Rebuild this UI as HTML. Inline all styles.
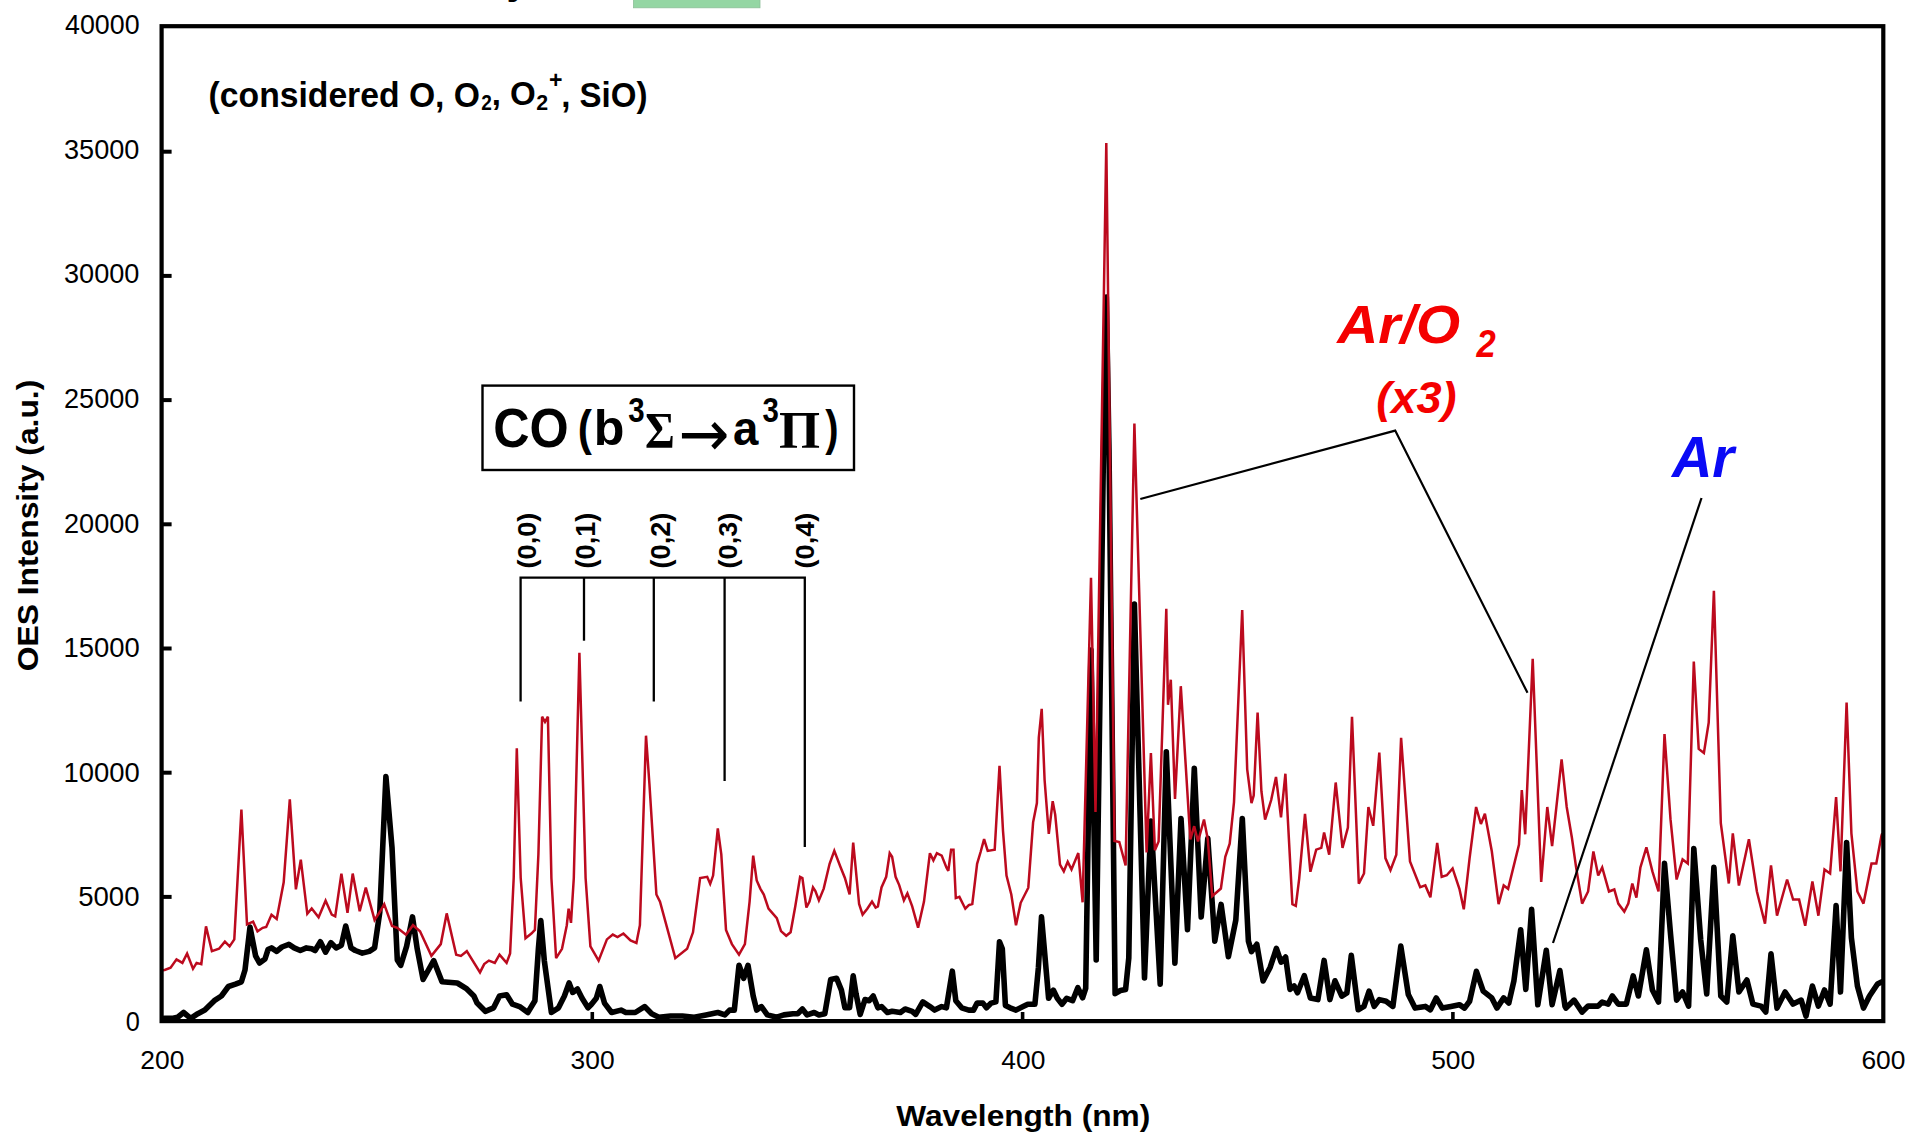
<!DOCTYPE html>
<html><head><meta charset="utf-8"><title>OES spectrum</title><style>
html,body{margin:0;padding:0;background:#fff;width:1920px;height:1144px;overflow:hidden}
svg{display:block}
text{white-space:pre}
</style></head><body>
<svg width="1920" height="1144" viewBox="0 0 1920 1144">
<rect x="0" y="0" width="1920" height="1144" fill="#fff"/>
<g id="gfx">
<rect x="633.5" y="-3" width="126.5" height="10.8" fill="#94d6a3" stroke="#8cbf98" stroke-width="0.8"/>
<defs><clipPath id="pc"><rect x="162" y="26" width="1721" height="996"/></clipPath></defs>
<polyline clip-path="url(#pc)" points="160.0,1018.5 164.7,1018.4 171.8,1018.4 177.7,1017.2 183.6,1012.5 190.7,1018.4 197.8,1013.7 204.8,1010.1 214.3,1000.7 221.4,996.0 228.4,986.5 235.5,984.2 241.4,981.8 245.0,970.0 250.0,927.0 255.6,955.9 259.5,963.0 265.0,959.0 268.0,949.6 271.5,947.9 276.7,951.4 281.9,947.0 288.9,944.4 294.2,947.9 300.3,950.5 306.4,947.9 311.7,948.7 315.1,950.5 320.4,941.8 325.6,952.2 330.9,942.6 336.1,947.9 341.4,945.2 345.7,926.0 351.0,947.9 355.3,950.5 362.3,953.1 369.3,951.4 374.6,947.9 379.8,912.0 385.9,776.6 392.0,847.4 397.3,959.9 400.7,965.3 406.6,946.4 412.5,916.9 417.2,948.8 423.1,979.5 433.7,960.6 442.0,981.8 457.3,983.0 466.8,988.9 473.9,996.0 477.1,1003.1 485.3,1011.3 493.6,1007.8 499.5,996.0 506.6,994.8 512.5,1004.2 519.6,1006.6 527.8,1012.5 534.9,1000.7 538.4,948.8 540.8,920.5 544.3,960.6 551.4,1012.5 558.5,1007.8 564.4,996.0 569.1,983.0 572.7,992.4 577.4,988.9 582.1,998.3 588.0,1007.8 591.5,1004.2 596.3,998.3 599.8,986.5 604.5,1003.1 611.6,1012.5 621.0,1010.1 625.8,1012.5 635.2,1012.5 644.6,1006.6 651.7,1013.7 658.8,1017.2 670.6,1016.0 682.4,1016.0 694.2,1017.2 706.0,1014.9 717.8,1012.5 724.9,1014.9 729.6,1010.1 734.3,1010.1 739.0,965.3 743.7,978.3 748.0,965.3 753.2,996.0 756.7,1010.1 761.4,1006.6 767.3,1014.9 776.8,1017.2 783.9,1014.9 793.0,1013.7 797.7,1013.7 802.4,1009.0 807.1,1014.9 814.2,1012.5 818.9,1014.9 824.8,1013.7 830.7,979.5 836.6,978.3 841.4,990.1 844.9,1007.8 849.6,1007.8 853.2,975.9 856.0,993.6 860.2,1014.4 865.0,999.5 869.2,1000.7 873.2,996.0 877.9,1007.8 881.5,1006.6 887.4,1012.5 892.1,1011.3 900.4,1012.5 905.1,1009.0 912.2,1011.3 915.7,1014.4 922.8,1001.9 929.9,1006.6 934.6,1010.1 941.7,1006.6 946.4,1007.8 952.3,971.2 955.8,1000.7 961.7,1007.8 968.8,1010.1 973.5,1010.1 977.1,1003.1 982.9,1003.1 986.5,1007.8 991.2,1003.1 995.9,1001.9 999.5,941.7 1002.3,948.8 1005.4,1005.4 1010.1,1007.8 1016.0,1010.1 1023.1,1006.6 1027.8,1004.2 1034.9,1004.2 1038.4,967.7 1041.5,916.9 1044.3,948.8 1048.6,998.3 1053.3,990.1 1057.3,998.3 1062.0,1004.2 1066.7,998.3 1072.6,1000.7 1077.8,987.7 1082.6,997.8 1085.7,988.4 1091.0,650.0 1096.2,960.0 1103.5,450.0 1106.3,297.0 1109.0,450.0 1115.1,993.6 1120.4,990.5 1125.6,989.4 1128.8,957.9 1134.4,604.0 1144.5,977.9 1151.0,821.0 1160.2,984.1 1166.3,751.8 1174.9,963.1 1181.0,818.5 1187.5,929.6 1194.3,768.2 1201.2,917.0 1207.8,838.2 1214.8,941.1 1221.1,904.4 1228.4,956.8 1235.8,920.1 1242.3,818.5 1248.4,941.1 1251.5,951.6 1256.8,944.3 1263.1,981.0 1270.2,967.2 1276.4,948.5 1281.1,962.1 1285.6,957.0 1290.0,989.4 1294.1,985.9 1297.5,992.8 1304.3,975.7 1310.4,997.9 1317.9,999.6 1324.1,960.4 1329.9,999.6 1335.0,980.8 1341.8,996.2 1346.9,992.8 1351.3,955.3 1358.2,1009.8 1364.0,1006.4 1369.1,991.1 1374.2,1006.4 1379.3,999.6 1386.1,1001.3 1392.9,1006.4 1400.8,946.1 1408.3,994.5 1415.1,1008.1 1425.3,1006.4 1430.4,1009.8 1436.2,997.9 1442.3,1008.1 1450.9,1006.4 1459.4,1004.7 1464.5,1008.1 1469.6,1001.3 1476.4,971.3 1483.2,991.1 1491.8,997.9 1496.9,1008.1 1503.7,997.9 1508.8,1003.0 1513.9,980.8 1520.7,929.7 1525.8,989.4 1531.6,909.3 1537.8,1004.7 1546.3,950.2 1552.1,1004.7 1559.9,970.6 1565.0,1006.4 1566.0,1008.1 1574.1,1000.1 1582.1,1012.1 1588.1,1006.1 1598.2,1006.1 1602.2,1002.1 1608.2,1004.1 1612.3,996.0 1618.3,1004.1 1626.3,1004.1 1633.2,975.9 1638.4,996.0 1646.4,949.8 1652.4,990.0 1658.5,1002.1 1664.5,863.4 1670.5,933.7 1676.6,1000.1 1682.6,992.0 1688.6,1006.1 1693.8,848.5 1700.7,939.8 1706.7,994.0 1713.9,867.4 1720.8,996.0 1726.8,1002.1 1732.8,935.8 1738.9,992.0 1746.9,980.0 1752.9,1004.1 1761.0,1006.1 1765.8,1012.1 1771.0,953.8 1777.0,1008.1 1785.1,992.0 1793.1,1004.1 1801.2,1000.1 1806.0,1016.1 1812.4,986.0 1818.4,1006.1 1824.5,990.0 1830.1,1004.1 1836.1,905.6 1840.5,992.0 1846.6,842.5 1851.4,937.8 1857.4,986.0 1863.5,1008.1 1869.5,996.0 1877.5,984.0 1881.5,982.0" fill="none" stroke="#000" stroke-width="5.6" stroke-linejoin="round" stroke-linecap="round"/>
<polyline clip-path="url(#pc)" points="160.0,970.5 164.7,970.0 170.6,967.7 176.5,959.4 182.4,962.9 187.1,953.5 193.0,968.8 196.6,962.9 201.3,964.1 206.0,926.4 211.9,951.2 219.0,948.8 224.9,941.7 229.6,946.4 234.3,939.4 241.4,809.6 247.0,924.3 253.1,921.7 257.5,931.3 262.7,927.8 266.2,926.9 271.5,914.7 276.7,919.0 283.7,882.3 289.8,799.3 295.9,889.3 300.8,859.6 307.3,913.8 311.7,908.5 318.6,917.3 325.6,900.7 331.8,914.7 335.2,916.4 341.4,873.6 347.5,912.9 352.7,873.6 359.7,911.2 365.8,887.6 374.6,919.9 379.8,912.0 384.2,904.2 392.0,926.0 397.3,927.8 406.0,934.8 413.0,925.2 420.0,931.3 431.4,955.9 440.8,944.1 446.7,913.4 456.2,954.7 460.9,955.9 466.8,951.2 480.0,972.4 484.2,964.1 488.9,960.6 494.8,962.9 499.5,954.7 506.6,962.9 510.1,953.5 513.7,878.0 516.8,748.4 520.7,878.0 525.5,938.2 531.4,933.5 534.9,929.9 538.4,854.4 542.1,716.7 545.0,722.0 547.9,716.7 551.4,878.0 556.1,958.2 562.0,948.8 566.8,925.2 568.6,908.7 571.0,922.8 573.8,878.0 579.4,652.9 585.6,878.0 590.4,946.4 598.6,960.6 606.9,939.4 612.8,934.6 617.5,937.0 623.4,933.5 630.5,940.5 636.4,942.9 639.9,925.2 646.0,735.7 649.4,783.6 656.4,894.5 660.0,901.6 675.3,958.2 687.1,948.8 693.0,932.3 700.1,878.0 707.2,876.8 710.2,883.9 713.1,875.6 717.8,828.4 721.3,854.4 726.0,929.9 731.9,944.1 739.0,954.7 744.9,944.1 749.6,901.6 753.2,855.6 756.7,880.4 760.3,888.6 763.8,894.5 768.5,908.7 776.8,918.1 781.0,931.1 786.2,935.8 790.6,932.3 795.3,906.3 800.1,876.8 802.4,878.0 806.4,907.5 809.5,901.6 813.0,887.4 815.4,891.0 818.9,900.4 823.7,888.6 829.6,863.8 834.3,850.9 840.2,866.2 844.9,878.0 849.6,894.5 853.2,842.6 855.5,866.2 859.1,904.0 862.6,914.6 867.3,908.7 872.0,901.6 875.6,907.5 877.9,906.3 881.5,887.4 886.2,876.8 889.7,853.2 892.1,856.8 895.6,876.8 899.2,885.1 903.9,900.4 907.4,893.3 912.2,906.3 918.1,927.6 924.0,901.6 929.9,853.2 933.4,860.3 936.9,853.2 941.7,855.6 946.4,867.4 948.3,870.9 951.1,849.7 953.5,849.7 955.8,898.1 959.4,896.9 965.3,908.7 968.8,905.1 972.3,904.0 977.1,863.8 980.6,852.0 984.1,839.1 987.7,850.9 994.7,849.7 999.5,765.9 1003.0,830.8 1006.5,875.6 1011.3,894.5 1016.0,925.2 1020.7,902.8 1028.3,887.7 1033.1,822.3 1036.9,803.1 1038.8,737.7 1041.7,708.8 1044.6,780.0 1048.8,833.8 1052.7,801.2 1055.2,814.6 1060.0,864.6 1063.8,871.3 1067.7,861.7 1071.5,869.4 1078.3,853.1 1082.6,902.3 1091.0,577.8 1095.5,812.0 1106.3,143.0 1114.5,841.0 1119.3,842.0 1125.6,865.5 1134.4,423.5 1146.6,852.4 1150.9,753.0 1154.9,850.2 1158.6,841.5 1166.3,608.7 1168.0,704.8 1170.8,679.7 1175.0,798.9 1180.8,686.2 1190.3,839.3 1194.2,826.2 1198.0,841.5 1204.0,819.6 1207.8,839.3 1212.2,896.2 1220.9,888.5 1225.3,856.8 1229.7,843.7 1234.0,802.1 1242.2,610.0 1247.2,769.3 1251.5,803.2 1253.7,795.6 1257.6,712.5 1261.4,791.2 1265.1,819.6 1271.2,800.0 1276.0,777.0 1281.0,817.4 1285.4,773.7 1292.4,904.1 1295.8,905.8 1299.2,878.6 1305.0,813.8 1310.4,871.8 1316.2,849.6 1321.3,847.9 1324.1,832.6 1329.2,854.7 1335.7,782.5 1342.5,847.9 1347.9,827.5 1352.0,716.7 1358.8,883.7 1364.0,873.5 1368.4,807.0 1373.2,825.8 1379.3,752.5 1385.4,858.1 1390.5,870.1 1396.3,854.7 1401.1,737.8 1410.0,861.5 1420.2,887.1 1425.3,885.4 1430.4,897.3 1437.2,842.8 1441.7,876.9 1446.8,875.2 1452.6,868.4 1459.4,888.8 1463.8,909.3 1469.6,858.1 1476.1,807.0 1480.9,824.0 1484.9,813.8 1491.8,851.3 1498.6,904.1 1503.7,885.4 1508.1,888.8 1519.0,844.5 1521.8,790.0 1525.2,834.3 1532.7,658.7 1541.2,882.0 1547.3,807.0 1552.1,846.2 1561.6,759.3 1566.7,807.0 1571.9,837.7 1576.1,867.4 1582.1,903.6 1588.1,891.5 1593.4,851.4 1598.2,875.5 1602.2,867.4 1609.0,891.5 1614.3,889.5 1618.3,903.6 1624.3,911.6 1628.3,903.6 1632.3,883.5 1636.4,897.6 1640.4,867.4 1646.4,847.3 1652.4,871.4 1658.5,891.5 1664.5,734.0 1670.5,819.2 1676.6,879.5 1682.6,859.4 1687.8,863.4 1693.8,661.6 1698.7,748.9 1703.9,752.9 1708.7,722.7 1713.9,590.9 1720.8,823.2 1728.8,883.5 1732.8,833.3 1738.9,885.5 1748.9,839.3 1756.9,891.5 1765.0,923.7 1771.0,865.4 1777.0,915.7 1787.1,879.5 1793.1,899.6 1799.1,899.6 1805.2,925.7 1812.4,881.5 1818.4,915.7 1824.5,869.4 1830.1,873.5 1836.1,797.1 1840.5,871.4 1846.6,702.6 1851.4,833.3 1857.4,891.5 1863.5,903.6 1871.5,863.4 1876.3,863.4 1881.5,835.3 1882.3,833.3" fill="none" stroke="#bc0a1e" stroke-width="2.5" stroke-linejoin="miter" stroke-miterlimit="3"/>
<rect x="161.6" y="26.2" width="1721.7" height="994.9" fill="none" stroke="#000" stroke-width="4.2"/>
<line x1="163" y1="896.9" x2="171.6" y2="896.9" stroke="#000" stroke-width="4"/>
<line x1="163" y1="772.7" x2="171.6" y2="772.7" stroke="#000" stroke-width="4"/>
<line x1="163" y1="648.5" x2="171.6" y2="648.5" stroke="#000" stroke-width="4"/>
<line x1="163" y1="524.3" x2="171.6" y2="524.3" stroke="#000" stroke-width="4"/>
<line x1="163" y1="400.1" x2="171.6" y2="400.1" stroke="#000" stroke-width="4"/>
<line x1="163" y1="275.9" x2="171.6" y2="275.9" stroke="#000" stroke-width="4"/>
<line x1="163" y1="151.7" x2="171.6" y2="151.7" stroke="#000" stroke-width="4"/>
<line x1="592.3" y1="1021" x2="592.3" y2="1012" stroke="#000" stroke-width="3.6"/>
<line x1="1022.6" y1="1021" x2="1022.6" y2="1012" stroke="#000" stroke-width="3.6"/>
<line x1="1452.9" y1="1021" x2="1452.9" y2="1012" stroke="#000" stroke-width="3.6"/>
<rect x="482.5" y="385.6" width="371.5" height="84.4" fill="#fff" stroke="#000" stroke-width="2.4"/>
<g stroke="#000" stroke-width="2.3" fill="none">
<polyline points="520.6,701.5 520.6,577.7 804.8,577.7 804.8,847"/>
<line x1="584" y1="577.7" x2="584" y2="640.7"/>
<line x1="653.8" y1="577.7" x2="653.8" y2="701.5"/>
<line x1="724.6" y1="577.7" x2="724.6" y2="781"/>
</g>
<g stroke="#000" stroke-width="2.2" fill="none">
<polyline points="1140.3,499 1395.2,430.6 1527.5,692.8"/>
<line x1="1701.5" y1="498" x2="1553" y2="943"/>
</g>
</g>
<g id="txt">
<text transform="translate(506.6,-5.6)" style="font-family:'Liberation Sans',Arial,sans-serif;font-weight:bold;font-size:40px;fill:#000">y</text>
<text id="yl0" class="t" transform="translate(125.80,1030.70) scale(0.9321,1)" style="font-family:'Liberation Sans', Arial, Helvetica, sans-serif;font-weight:normal;font-style:normal;font-size:27.23px;fill:#000">0</text>
<text id="yl1" class="t" transform="translate(78.25,905.72) scale(1.0116,1)" style="font-family:'Liberation Sans', Arial, Helvetica, sans-serif;font-weight:normal;font-style:normal;font-size:27.23px;fill:#000">5000</text>
<text id="yl2" class="t" transform="translate(63.55,781.75) scale(1.0070,1)" style="font-family:'Liberation Sans', Arial, Helvetica, sans-serif;font-weight:normal;font-style:normal;font-size:27.23px;fill:#000">10000</text>
<text id="yl3" class="t" transform="translate(63.55,656.77) scale(1.0070,1)" style="font-family:'Liberation Sans', Arial, Helvetica, sans-serif;font-weight:normal;font-style:normal;font-size:27.23px;fill:#000">15000</text>
<text id="yl4" class="t" transform="translate(64.05,532.80) scale(0.9954,1)" style="font-family:'Liberation Sans', Arial, Helvetica, sans-serif;font-weight:normal;font-style:normal;font-size:27.23px;fill:#000">20000</text>
<text id="yl5" class="t" transform="translate(64.05,407.82) scale(0.9954,1)" style="font-family:'Liberation Sans', Arial, Helvetica, sans-serif;font-weight:normal;font-style:normal;font-size:27.23px;fill:#000">25000</text>
<text id="yl6" class="t" transform="translate(64.05,282.84) scale(0.9954,1)" style="font-family:'Liberation Sans', Arial, Helvetica, sans-serif;font-weight:normal;font-style:normal;font-size:27.23px;fill:#000">30000</text>
<text id="yl7" class="t" transform="translate(64.05,158.87) scale(0.9954,1)" style="font-family:'Liberation Sans', Arial, Helvetica, sans-serif;font-weight:normal;font-style:normal;font-size:27.23px;fill:#000">35000</text>
<text id="yl8" class="t" transform="translate(65.05,33.89) scale(0.9841,1)" style="font-family:'Liberation Sans', Arial, Helvetica, sans-serif;font-weight:normal;font-style:normal;font-size:27.23px;fill:#000">40000</text>
<text id="xl0" class="t" transform="translate(140.30,1068.75) scale(1.0296,1)" style="font-family:'Liberation Sans', Arial, Helvetica, sans-serif;font-weight:normal;font-style:normal;font-size:25.62px;fill:#000">200</text>
<text id="xl1" class="t" transform="translate(570.58,1068.75) scale(1.0296,1)" style="font-family:'Liberation Sans', Arial, Helvetica, sans-serif;font-weight:normal;font-style:normal;font-size:25.62px;fill:#000">300</text>
<text id="xl2" class="t" transform="translate(1001.36,1068.75) scale(1.0296,1)" style="font-family:'Liberation Sans', Arial, Helvetica, sans-serif;font-weight:normal;font-style:normal;font-size:25.62px;fill:#000">400</text>
<text id="xl3" class="t" transform="translate(1431.14,1068.75) scale(1.0296,1)" style="font-family:'Liberation Sans', Arial, Helvetica, sans-serif;font-weight:normal;font-style:normal;font-size:25.62px;fill:#000">500</text>
<text id="xl4" class="t" transform="translate(1861.42,1068.75) scale(1.0296,1)" style="font-family:'Liberation Sans', Arial, Helvetica, sans-serif;font-weight:normal;font-style:normal;font-size:25.62px;fill:#000">600</text>
<text id="wave" class="t" transform="translate(896.25,1126.45) scale(1.1071,1)" style="font-family:'Liberation Sans', Arial, Helvetica, sans-serif;font-weight:bold;font-style:normal;font-size:28.62px;fill:#000">Wavelength (nm)</text>
<text id="oes" class="t" transform="translate(37.90,671.25) rotate(-90) scale(1.0776,1)" style="font-family:'Liberation Sans', Arial, Helvetica, sans-serif;font-weight:bold;font-style:normal;font-size:29.52px;fill:#000">OES Intensity (a.u.)</text>
<text id="c1" class="t" transform="translate(208.60,106.80) scale(0.9774,1)" style="font-family:'Liberation Sans', Arial, Helvetica, sans-serif;font-weight:bold;font-style:normal;font-size:34.48px;fill:#000">(considered O, O</text>
<text id="c2" class="t" transform="translate(481.20,110.00) scale(0.8597,1)" style="font-family:'Liberation Sans', Arial, Helvetica, sans-serif;font-weight:bold;font-style:normal;font-size:22.13px;fill:#000">2</text>
<text id="c3" class="t" transform="translate(491.70,104.55) scale(0.9877,1)" style="font-family:'Liberation Sans', Arial, Helvetica, sans-serif;font-weight:bold;font-style:normal;font-size:33.46px;fill:#000">, O</text>
<text id="c4" class="t" transform="translate(536.15,110.00) scale(0.9653,1)" style="font-family:'Liberation Sans', Arial, Helvetica, sans-serif;font-weight:bold;font-style:normal;font-size:22.13px;fill:#000">2</text>
<text id="c5" class="t" transform="translate(549.10,87.75) scale(1.0044,1)" style="font-family:'Liberation Sans', Arial, Helvetica, sans-serif;font-weight:bold;font-style:normal;font-size:23.01px;fill:#000">+</text>
<text id="c6" class="t" transform="translate(561.15,106.80) scale(0.9658,1)" style="font-family:'Liberation Sans', Arial, Helvetica, sans-serif;font-weight:bold;font-style:normal;font-size:34.26px;fill:#000">, SiO)</text>
<text id="co" class="t" transform="translate(493.15,446.60) scale(0.8990,1)" style="font-family:'Liberation Sans', Arial, Helvetica, sans-serif;font-weight:bold;font-style:normal;font-size:56.00px;fill:#000">CO</text>
<text id="lp" class="t" transform="translate(577.65,445.05) scale(0.8507,1)" style="font-family:'Liberation Sans', Arial, Helvetica, sans-serif;font-weight:bold;font-style:normal;font-size:49.92px;fill:#000">(</text>
<text id="b" class="t" transform="translate(593.75,445.15) scale(0.9930,1)" style="font-family:'Liberation Sans', Arial, Helvetica, sans-serif;font-weight:bold;font-style:normal;font-size:50.59px;fill:#000">b</text>
<text id="s1" class="t" transform="translate(628.20,421.55) scale(0.8500,1)" style="font-family:'Liberation Sans', Arial, Helvetica, sans-serif;font-weight:bold;font-style:normal;font-size:34.60px;fill:#000">3</text>
<text id="sig" class="t" transform="translate(644.95,447.35) scale(0.8892,1)" style="font-family:'Liberation Serif', 'Times New Roman', serif;font-weight:bold;font-style:normal;font-size:51.27px;fill:#000">&#931;</text>
<text id="arr" class="t" transform="translate(678.35,456.00) scale(0.9514,1)" style="font-family:'DejaVu Sans', 'Liberation Sans', sans-serif;font-weight:normal;font-style:normal;font-size:64.04px;fill:#000">&#8594;</text>
<text id="a" class="t" transform="translate(733.00,445.05) scale(0.9352,1)" style="font-family:'Liberation Sans', Arial, Helvetica, sans-serif;font-weight:bold;font-style:normal;font-size:48.75px;fill:#000">a</text>
<text id="s2" class="t" transform="translate(762.60,421.55) scale(0.8500,1)" style="font-family:'Liberation Sans', Arial, Helvetica, sans-serif;font-weight:bold;font-style:normal;font-size:34.60px;fill:#000">3</text>
<text id="pi" class="t" transform="translate(779.00,448.35)" style="font-family:'Liberation Serif', 'Times New Roman', serif;font-weight:bold;font-style:normal;font-size:52.82px;fill:#000">&#928;</text>
<text id="rp" class="t" transform="translate(825.20,445.35) scale(0.8000,1)" style="font-family:'Liberation Sans', Arial, Helvetica, sans-serif;font-weight:bold;font-style:normal;font-size:49.92px;fill:#000">)</text>
<text id="v0" class="t" transform="translate(535.95,568.38) rotate(-90) scale(1.0222,1)" style="font-family:'Liberation Sans', Arial, Helvetica, sans-serif;font-weight:bold;font-style:normal;font-size:26.45px;fill:#000">(0,0)</text>
<text id="v1" class="t" transform="translate(595.25,568.38) rotate(-90) scale(0.9472,1)" style="font-family:'Liberation Sans', Arial, Helvetica, sans-serif;font-weight:bold;font-style:normal;font-size:28.55px;fill:#000">(0,1)</text>
<text id="v2" class="t" transform="translate(670.25,568.38) rotate(-90) scale(0.9472,1)" style="font-family:'Liberation Sans', Arial, Helvetica, sans-serif;font-weight:bold;font-style:normal;font-size:28.55px;fill:#000">(0,2)</text>
<text id="v3" class="t" transform="translate(737.35,568.38) rotate(-90) scale(1.0222,1)" style="font-family:'Liberation Sans', Arial, Helvetica, sans-serif;font-weight:bold;font-style:normal;font-size:26.45px;fill:#000">(0,3)</text>
<text id="v4" class="t" transform="translate(813.50,568.38) rotate(-90) scale(1.0344,1)" style="font-family:'Liberation Sans', Arial, Helvetica, sans-serif;font-weight:bold;font-style:normal;font-size:26.14px;fill:#000">(0,4)</text>
<text id="aro" class="t" transform="translate(1337.20,343.35) scale(1.0447,1)" style="font-family:'Liberation Sans', Arial, Helvetica, sans-serif;font-weight:bold;font-style:italic;font-size:54.35px;fill:#f40000">Ar/O</text>
<text id="ar2" class="t" transform="translate(1476.45,356.95) scale(0.9067,1)" style="font-family:'Liberation Sans', Arial, Helvetica, sans-serif;font-weight:bold;font-style:italic;font-size:38.16px;fill:#f40000">2</text>
<text id="x3" class="t" transform="translate(1376.25,413.10) scale(1.0064,1)" style="font-family:'Liberation Sans', Arial, Helvetica, sans-serif;font-weight:bold;font-style:italic;font-size:44.89px;fill:#f40000">(x3)</text>
<text id="arb" class="t" transform="translate(1671.90,476.85) scale(0.9838,1)" style="font-family:'Liberation Sans', Arial, Helvetica, sans-serif;font-weight:bold;font-style:italic;font-size:56.90px;fill:#0a0af5">Ar</text>
</g>
</svg></body></html>
